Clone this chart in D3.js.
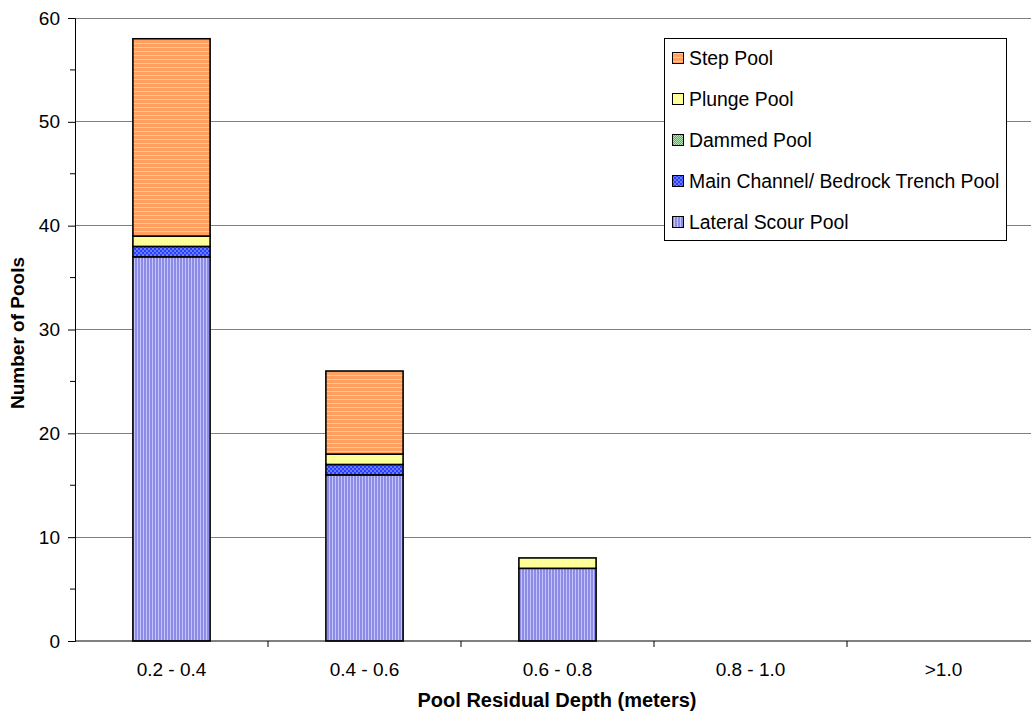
<!DOCTYPE html>
<html>
<head>
<meta charset="utf-8">
<script src="https://cdn.jsdelivr.net/npm/d3@7/dist/d3.min.js"></script>
<style>
  html, body { margin: 0; padding: 0; background: #fff; }
  svg { display: block; font-family: Arial, "Liberation Sans", sans-serif; }
</style>
</head>
<body>
<svg id="chart" width="1031" height="713"></svg>
<script>
// Pool counts by residual depth class, one array per pool type
const categories = ["0.2 - 0.4", "0.4 - 0.6", "0.6 - 0.8", "0.8 - 1.0", ">1.0"];
const lateralScour = [37, 16, 7, 0, 0];
const mainChannel = [1, 1, 0, 0, 0];
const dammed = [0, 0, 0, 0, 0];
const plunge = [1, 1, 1, 0, 0];
const step = [19, 8, 0, 0, 0];
const yTicks = [0, 10, 20, 30, 40, 50, 60];

const seriesNames = ["Lateral Scour Pool", "Main Channel/ Bedrock Trench Pool", "Dammed Pool", "Plunge Pool", "Step Pool"];
const seriesValues = [lateralScour, mainChannel, dammed, plunge, step];
const fills = ["url(#pat-lateral)", "url(#pat-main)", "url(#pat-dammed)", "#ffff99", "url(#pat-step)"];

const svg = d3.select("#chart");
const margin = { left: 75, top: 18, right: 1040, bottom: 641 };

// fill patterns
const defs = svg.append("defs");
const lat = defs.append("pattern").attr("id", "pat-lateral").attr("patternUnits", "userSpaceOnUse")
  .attr("width", 3).attr("height", 3);
lat.append("rect").attr("width", 3).attr("height", 3).attr("fill", "#8c8ce6");
lat.append("rect").attr("x", 2).attr("width", 1).attr("height", 3).attr("fill", "#c4c4ff");

const st = defs.append("pattern").attr("id", "pat-step").attr("patternUnits", "userSpaceOnUse")
  .attr("width", 4).attr("height", 4);
st.append("rect").attr("width", 4).attr("height", 4).attr("fill", "#ffa060");
st.append("rect").attr("y", 3).attr("width", 4).attr("height", 1).attr("fill", "#ffc89c");

const mc = defs.append("pattern").attr("id", "pat-main").attr("patternUnits", "userSpaceOnUse")
  .attr("width", 4).attr("height", 4);
mc.append("rect").attr("width", 4).attr("height", 4).attr("fill", "#2a3cff");
mc.append("rect").attr("width", 2).attr("height", 2).attr("fill", "#6a80ff");
mc.append("rect").attr("x", 2).attr("y", 2).attr("width", 2).attr("height", 2).attr("fill", "#6a80ff");

const dm = defs.append("pattern").attr("id", "pat-dammed").attr("patternUnits", "userSpaceOnUse")
  .attr("width", 2).attr("height", 2);
dm.append("rect").attr("width", 2).attr("height", 2).attr("fill", "#55b055");
dm.append("rect").attr("width", 1).attr("height", 1).attr("fill", "#b8e8b8");
dm.append("rect").attr("x", 1).attr("y", 1).attr("width", 1).attr("height", 1).attr("fill", "#b8e8b8");

const x = d3.scaleBand().domain(categories).range([margin.left, margin.right]).paddingInner(0.6).paddingOuter(0.3);
const xOuter = d3.scaleBand().domain(categories).range([margin.left, margin.right]);
const y = d3.scaleLinear().domain([0, 60]).range([margin.bottom, margin.top]);

// horizontal gridlines
svg.append("g").selectAll("line").data(yTicks.filter(d => d > 0)).join("line")
  .attr("x1", margin.left).attr("x2", margin.right)
  .attr("y1", d => y(d)).attr("y2", d => y(d))
  .attr("stroke", "#808080").attr("stroke-width", 1).attr("shape-rendering", "crispEdges");

// stacked bars
const rows = categories.map((c, i) => {
  const r = { cat: c };
  seriesNames.forEach((s, j) => r[s] = seriesValues[j][i]);
  return r;
});
const stacked = d3.stack().keys(seriesNames)(rows);
svg.append("g").selectAll("g").data(stacked).join("g")
  .attr("fill", (d, i) => fills[i])
  .selectAll("rect").data(d => d.filter(p => p[1] - p[0] > 0)).join("rect")
  .attr("x", d => x(d.data.cat))
  .attr("width", x.bandwidth())
  .attr("y", d => y(d[1]))
  .attr("height", d => y(d[0]) - y(d[1]))
  .attr("stroke", "#000").attr("stroke-width", 1.6);

// y axis
const yAxis = d3.axisLeft(y).tickValues(yTicks).tickSize(7).tickPadding(8).tickFormat(d3.format("d"));
const gy = svg.append("g").attr("transform", `translate(${margin.left},0)`).call(yAxis);
gy.select(".domain").attr("stroke", "#000");
gy.selectAll(".tick line").attr("stroke", "#000");
gy.selectAll("text").attr("font-size", 19).attr("fill", "#000");
const minor = d3.range(5, 60, 10);
svg.append("g").selectAll("line").data(minor).join("line")
  .attr("x1", margin.left - 5).attr("x2", margin.left)
  .attr("y1", d => y(d)).attr("y2", d => y(d)).attr("stroke", "#000");

// x axis
const gx = svg.append("g").attr("transform", `translate(0,${margin.bottom})`);
gx.append("line").attr("x1", margin.left).attr("x2", margin.right).attr("stroke", "#000");
gx.selectAll("line.tk").data(categories.slice(1)).join("line").attr("class", "tk")
  .attr("x1", d => xOuter(d)).attr("x2", d => xOuter(d)).attr("y1", 0).attr("y2", 6).attr("stroke", "#000");
gx.selectAll("text").data(categories).join("text")
  .attr("x", d => xOuter(d) + xOuter.bandwidth() / 2).attr("y", 35)
  .attr("text-anchor", "middle").attr("font-size", 19).text(d => d);

// axis titles
svg.append("text").attr("x", 557).attr("y", 707).attr("text-anchor", "middle")
  .attr("font-size", 20).attr("font-weight", "bold").text("Pool Residual Depth (meters)");
svg.append("text").attr("transform", "translate(24,333) rotate(-90)").attr("text-anchor", "middle")
  .attr("font-size", 19).attr("font-weight", "bold").text("Number of Pools");

// legend, listed top-down from the highest stack segment
const legend = svg.append("g");
legend.append("rect").attr("x", 664.5).attr("y", 38.5).attr("width", 342).attr("height", 202)
  .attr("fill", "#fff").attr("stroke", "#000");
const legendOrder = seriesNames.map((s, i) => i).reverse();
const ly = d3.scalePoint().domain(legendOrder).range([58, 222]);
const li = legend.selectAll("g").data(legendOrder).join("g")
  .attr("transform", d => `translate(672,${ly(d)})`);
li.append("rect").attr("x", 0.5).attr("y", -5.5).attr("width", 11).attr("height", 11)
  .attr("fill", d => fills[d]).attr("stroke", "#000");
li.append("text").attr("x", 17).attr("y", 7).attr("font-size", 19.4).text(d => seriesNames[d]);
</script>
</body>
</html>
